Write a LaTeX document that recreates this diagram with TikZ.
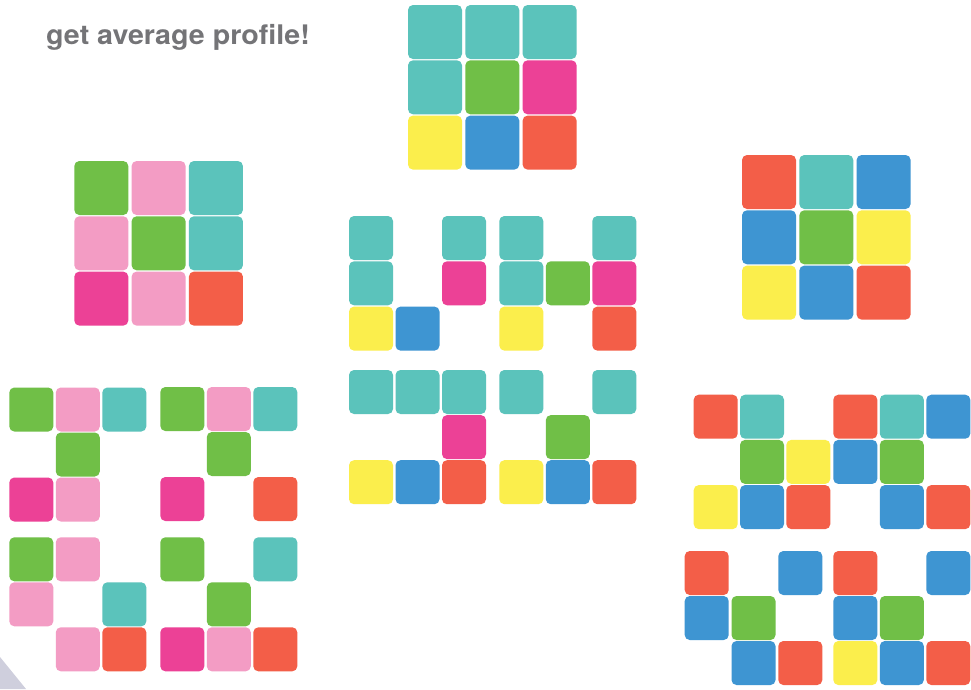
\documentclass[tikz,border=0pt]{standalone}
\usepackage{fontspec}
\usepackage{graphicx}
\setmainfont{TeX Gyre Heros}
\definecolor{cteal}{HTML}{5BC3BB}
\definecolor{cgreen}{HTML}{70BF47}
\definecolor{cpink}{HTML}{F39CC4}
\definecolor{cmag}{HTML}{EC4196}
\definecolor{cred}{HTML}{F35E48}
\definecolor{cyel}{HTML}{FBEE4C}
\definecolor{cblue}{HTML}{3E95D2}
\definecolor{ctext}{HTML}{747477}
\definecolor{cshade}{HTML}{CFCFDD}
% #1,#2 origin; #3,#4 pitch; #5 cell size; #6 nine colours (none = empty)
\newcommand{\drawgrid}[6]{%
  \foreach \c [count=\i from 0] in {#6} {%
    \pgfmathtruncatemacro\gcol{mod(\i,3)}%
    \pgfmathtruncatemacro\grow{div(\i,3)}%
    \path[cellbox, fill=\c] ({#1+\gcol*#3},{#2+\grow*#4}) rectangle ++(#5,#5);
  }}
\tikzset{cellbox/.style={rounded corners=5pt}}
\begin{document}
\begin{tikzpicture}[x=1pt,y=-1pt]
\useasboundingbox (0,0) rectangle (971,689);
\fill[white] (0,0) rectangle (971,689);
\fill[cshade] (0,657) -- (26,689) -- (0,689) -- cycle;

\node[anchor=base west, inner sep=0pt, text=ctext, font=\fontsize{27}{31}\selectfont\bfseries] (title) at (46,44.3) {\scalebox{1.06}[1]{get average profile!}};

% big grids
\drawgrid{408}{5}{57.3}{55.3}{54}{cteal,cteal,cteal,cteal,cgreen,cmag,cyel,cblue,cred}
\drawgrid{74.3}{161}{57.3}{55.3}{54}{cgreen,cpink,cteal,cpink,cgreen,cteal,cmag,cpink,cred}
\drawgrid{742}{155}{57.3}{55.3}{54}{cred,cteal,cblue,cblue,cgreen,cyel,cyel,cblue,cred}

% middle small grids
\drawgrid{349}{216}{46.5}{45.3}{44}{cteal,none,cteal,cteal,none,cmag,cyel,cblue,none}
\drawgrid{499.3}{216}{46.5}{45.3}{44}{cteal,none,cteal,cteal,cgreen,cmag,cyel,none,cred}
\drawgrid{349}{370}{46.5}{45.1}{44}{cteal,cteal,cteal,none,none,cmag,cyel,cblue,cred}
\drawgrid{499.3}{370}{46.5}{45.1}{44}{cteal,none,cteal,none,cgreen,none,cyel,cblue,cred}

% left small grids
\drawgrid{9.3}{387.5}{46.5}{45}{44}{cgreen,cpink,cteal,none,cgreen,none,cmag,cpink,none}
\drawgrid{160.3}{387}{46.5}{45}{44}{cgreen,cpink,cteal,none,cgreen,none,cmag,none,cred}
\drawgrid{9.3}{537.3}{46.5}{45}{44}{cgreen,cpink,none,cpink,none,cteal,none,cpink,cred}
\drawgrid{160.3}{537.3}{46.5}{45}{44}{cgreen,none,cteal,none,cgreen,none,cmag,cpink,cred}

% right small grids
\drawgrid{693.7}{394.7}{46.3}{45.2}{44}{cred,cteal,none,none,cgreen,cyel,cyel,cblue,cred}
\drawgrid{833.3}{394.7}{46.5}{45.2}{44}{cred,cteal,cblue,cblue,cgreen,none,none,cblue,cred}
\drawgrid{684.7}{551}{46.8}{45}{44}{cred,none,cblue,cblue,cgreen,none,none,cblue,cred}
\drawgrid{833.3}{551}{46.5}{45}{44}{cred,none,cblue,cblue,cgreen,none,cyel,cblue,cred}
\end{tikzpicture}
\end{document}
